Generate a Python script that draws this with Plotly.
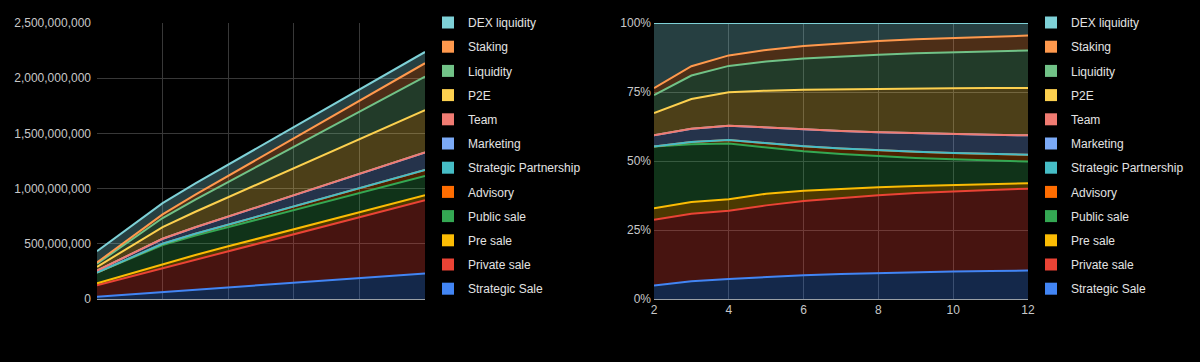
import plotly.graph_objects as go

# ---------------- data ----------------
x_months = [2, 3, 4, 5, 6, 7, 8, 9, 10, 11, 12]

series_names = ["Strategic Sale", "Private sale", "Pre sale", "Public sale", "Advisory",
                "Strategic Partnership", "Marketing", "Team", "P2E", "Liquidity",
                "Staking", "DEX liquidity"]

strategic_sale = [21000000, 42000000, 63000000, 84000000, 105000000, 126000000,
                  147000000, 168000000, 189000000, 210000000, 231000000]
private_sale = [103000000, 159000000, 215000000, 271000000, 327000000, 383000000,
                439000000, 495000000, 551000000, 607000000, 663000000]
pre_sale = [18000000, 28000000, 36000000, 44000000, 45000000, 45000000,
            45000000, 45000000, 45000000, 45000000, 45000000]
public_sale = [97000000, 136000000, 175000000, 175000000, 175000000, 175000000,
               175000000, 175000000, 175000000, 175000000, 175000000]
advisory = [0, 5500000, 11000000, 16500000, 22000000, 27500000,
            33000000, 38500000, 44000000, 49500000, 55000000]
strategic_partnership = [0, 0, 0, 0, 0, 0, 0, 0, 0, 0, 0]
marketing = [17500000, 31500000, 45500000, 59500000, 73500000, 87500000,
             101500000, 115500000, 129500000, 143500000, 157500000]
team = [0, 0, 0, 0, 0, 0, 0, 0, 0, 0, 0]
p2e = [35000000, 70000000, 105000000, 140000000, 175000000, 210000000,
       245000000, 280000000, 315000000, 350000000, 385000000]
liquidity = [28000000, 55500000, 83000000, 110500000, 138000000, 165500000,
             193000000, 220500000, 248000000, 275500000, 303000000]
staking = [11000000, 22000000, 33000000, 44000000, 55000000, 66000000,
           77000000, 88000000, 99000000, 110000000, 121000000]
dex_liquidity = [102000000, 102000000, 102000000, 102000000, 102000000, 102000000,
                 102000000, 102000000, 102000000, 102000000, 102000000]

series_values = [strategic_sale, private_sale, pre_sale, public_sale, advisory,
                 strategic_partnership, marketing, team, p2e, liquidity, staking,
                 dex_liquidity]

series_colors = ["#4285F4", "#EA4335", "#FBBC04", "#34A853", "#FF6D01", "#46BDC6",
                 "#7BAAF7", "#F07B72", "#FCD04F", "#71C287", "#FF994D", "#7ED1D7"]

left_ticks = [0, 500000000, 1000000000, 1500000000, 2000000000, 2500000000]
right_ticks = [0, 25, 50, 75, 100]
right_tick_labels = ["0%", "25%", "50%", "75%", "100%"]


def rgba(hex_color, a):
    h = hex_color.lstrip("#")
    r, g, b = int(h[0:2], 16), int(h[2:4], 16), int(h[4:6], 16)
    return f"rgba({r},{g},{b},{a})"


FONT = "Arial, 'Liberation Sans', sans-serif"
W, H = 1200, 362


def px_x(p):
    return p / W


def px_y(p):
    return 1 - p / H


fig = go.Figure()

# stacked areas
for name, vals, col in zip(series_names, series_values, series_colors):
    fig.add_trace(go.Scatter(
        x=x_months, y=vals, name=name, mode="lines", stackgroup="left",
        line=dict(color=col, width=2), fillcolor=rgba(col, 0.3),
        xaxis="x", yaxis="y", showlegend=False))
for i, (name, vals, col) in enumerate(zip(series_names, series_values, series_colors)):
    kw = dict(groupnorm="percent") if i == 0 else {}
    fig.add_trace(go.Scatter(
        x=x_months, y=vals, name=name, mode="lines", stackgroup="right",
        line=dict(color=col, width=2), fillcolor=rgba(col, 0.3),
        xaxis="x2", yaxis="y2", showlegend=False, **kw))

# legend swatches (top entry = last series)
for j, (name, col) in enumerate(zip(reversed(series_names), reversed(series_colors))):
    fig.add_trace(go.Scatter(
        x=[None], y=[None], mode="markers", name=name,
        marker=dict(symbol="square", size=12, color=col, line=dict(width=0)),
        xaxis="x", yaxis="y", legend="legend", legendgroup=f"a{j}"))
    fig.add_trace(go.Scatter(
        x=[None], y=[None], mode="markers", name=name,
        marker=dict(symbol="square", size=12, color=col, line=dict(width=0)),
        xaxis="x2", yaxis="y2", legend="legend2", legendgroup=f"b{j}"))

y_dom = [px_y(299), px_y(23)]
grid = "#383838"
tick_font = dict(family=FONT, size=12, color="#c8c8c8")
legend_font = dict(family=FONT, size=12, color="#e3e3e3")

fig.update_layout(
    width=W, height=H,
    paper_bgcolor="#000000", plot_bgcolor="#000000",
    margin=dict(l=0, r=0, t=0, b=0, autoexpand=False),
    font=dict(family=FONT, color="#c8c8c8"),
    hovermode=False,
    xaxis=dict(domain=[px_x(97), px_x(425)], range=[2, 12], tickmode="array",
               tickvals=x_months[::2], showticklabels=False, showgrid=True,
               gridcolor=grid, zeroline=False, showline=True, linecolor="#9aa0a6",
               linewidth=1, ticks=""),
    yaxis=dict(domain=y_dom, range=[0, 2500000000], tickmode="array",
               tickvals=left_ticks, tickformat=",.0f", showgrid=True, gridcolor=grid,
               zeroline=False, showline=False, tickfont=tick_font, ticks="",
               ticklabelstandoff=5),
    xaxis2=dict(domain=[px_x(654), px_x(1028)], range=[2, 12], tickmode="array",
                tickvals=x_months[::2], showgrid=True, gridcolor=grid, zeroline=False,
                showline=True, linecolor="#9aa0a6", linewidth=1, tickfont=tick_font,
                ticks="", anchor="y2"),
    yaxis2=dict(domain=y_dom, range=[0, 100], tickmode="array", tickvals=right_ticks,
                ticktext=right_tick_labels, showgrid=True, gridcolor=grid,
                zeroline=False, showline=False, tickfont=tick_font, ticks="",
                anchor="x2", ticklabelstandoff=2),
    legend=dict(x=px_x(428), y=px_y(8), xanchor="left", yanchor="top",
                font=legend_font, bgcolor="rgba(0,0,0,0)", tracegroupgap=5.2,
                traceorder="grouped", itemclick=False, itemdoubleclick=False),
    legend2=dict(x=px_x(1031), y=px_y(8), xanchor="left", yanchor="top",
                 font=legend_font, bgcolor="rgba(0,0,0,0)", tracegroupgap=5.2,
                 traceorder="grouped", itemclick=False, itemdoubleclick=False),
)

page_style = ("document.documentElement.style.margin='0px';"
              "document.documentElement.style.background='#000000';"
              "document.body.style.margin='0px';"
              "document.body.style.padding='0px';"
              "document.body.style.background='#000000';"
              "document.body.style.overflow='hidden';")

fig.write_html("out.html", post_script=page_style,
               config={"displayModeBar": False, "staticPlot": True})
